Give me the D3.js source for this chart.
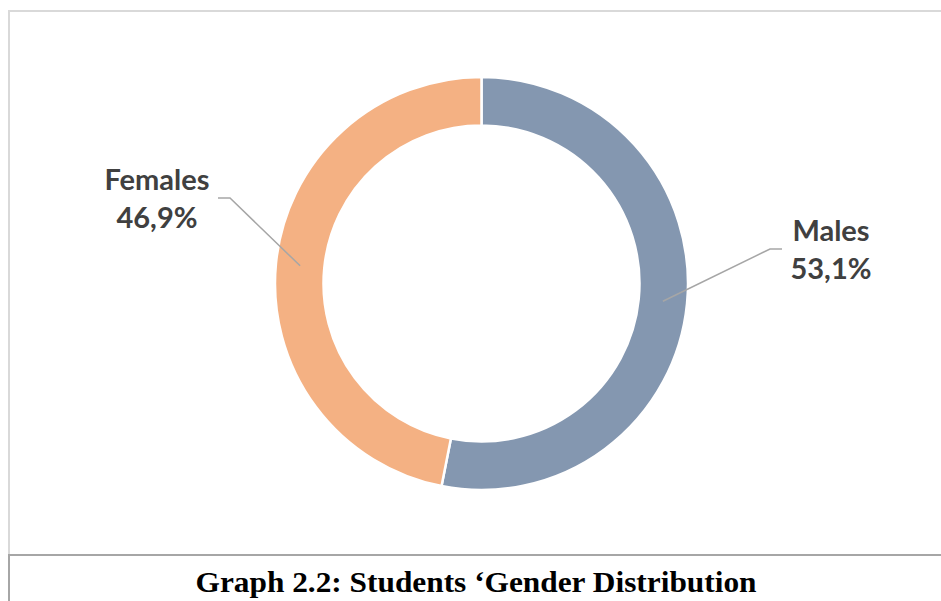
<!DOCTYPE html>
<html>
<head>
<script src="https://d3js.org/d3.v7.min.js"></script>
<style>
  body { margin: 0; background: #fff; }
</style>
</head>
<body>
<div id="Chart"></div>
<script>
// data
var categories = ["Males", "Females"];
var values = [53.1, 46.9];
var valueLabels = ["53,1%", "46,9%"];
var colors = ["#8497b0", "#f4b183"];
var title = "Graph 2.2: Students \u2018Gender Distribution";

var width = 941, height = 601;
var cx = 481.5, cy = 283.5, outerR = 206.5, innerR = 158;

var svg = d3.select("#Chart").append("svg")
    .attr("width", width)
    .attr("height", height);

// chart frame
svg.append("path")
    .attr("d", "M9,555 L9,11 L941,11")
    .attr("fill", "none")
    .attr("stroke", "#d9d9d9")
    .attr("stroke-width", 2);
// caption frame
svg.append("path")
    .attr("d", "M9,601 L9,555 L941,555")
    .attr("fill", "none")
    .attr("stroke", "#a6a6a6")
    .attr("stroke-width", 2);

var pie = d3.pie().sort(null).value(function(d) { return d; });
var arcs = pie(values);

var arc = d3.arc().innerRadius(innerR).outerRadius(outerR);
var mid = d3.arc().innerRadius((innerR + outerR) / 2).outerRadius((innerR + outerR) / 2);

var g = svg.append("g").attr("transform", "translate(" + cx + "," + cy + ")");

g.selectAll("path.slice")
  .data(arcs)
  .enter().append("path")
    .attr("class", "slice")
    .attr("d", arc)
    .attr("fill", function(d, i) { return colors[i]; })
    .attr("stroke", "#fff")
    .attr("stroke-width", 2.5);

// label placement (layout only)
var labelPos = [
  { x: 831, y: 241, elbow: [782, 249], corner: [770, 249] },
  { x: 157, y: 190, elbow: [218, 198], corner: [230, 198] }
];

arcs.forEach(function(d, i) {
  var c = mid.centroid(d);
  var p = labelPos[i];
  svg.append("polyline")
    .attr("points", [p.elbow, p.corner, [cx + c[0], cy + c[1]]].map(function(q) { return q.join(","); }).join(" "))
    .attr("fill", "none")
    .attr("stroke", "#a6a6a6")
    .attr("stroke-width", 1.5);

  var t = svg.append("text")
    .attr("x", p.x)
    .attr("y", p.y)
    .attr("text-anchor", "middle")
    .attr("font-family", "Lato, 'Open Sans', sans-serif")
    .attr("font-weight", "bold")
    .attr("font-size", 29)
    .attr("fill", "#404040");
  t.append("tspan").attr("x", p.x).text(categories[i]);
  t.append("tspan").attr("x", p.x).attr("dy", 38).text(valueLabels[i]);
});

svg.append("text")
    .attr("x", 476)
    .attr("y", 592)
    .attr("text-anchor", "middle")
    .attr("font-family", "'Liberation Serif', 'Times New Roman', serif")
    .attr("font-weight", "bold")
    .attr("font-size", 30)
    .attr("textLength", 561)
    .attr("lengthAdjust", "spacingAndGlyphs")
    .attr("fill", "#000")
    .text(title);
</script>
</body>
</html>
